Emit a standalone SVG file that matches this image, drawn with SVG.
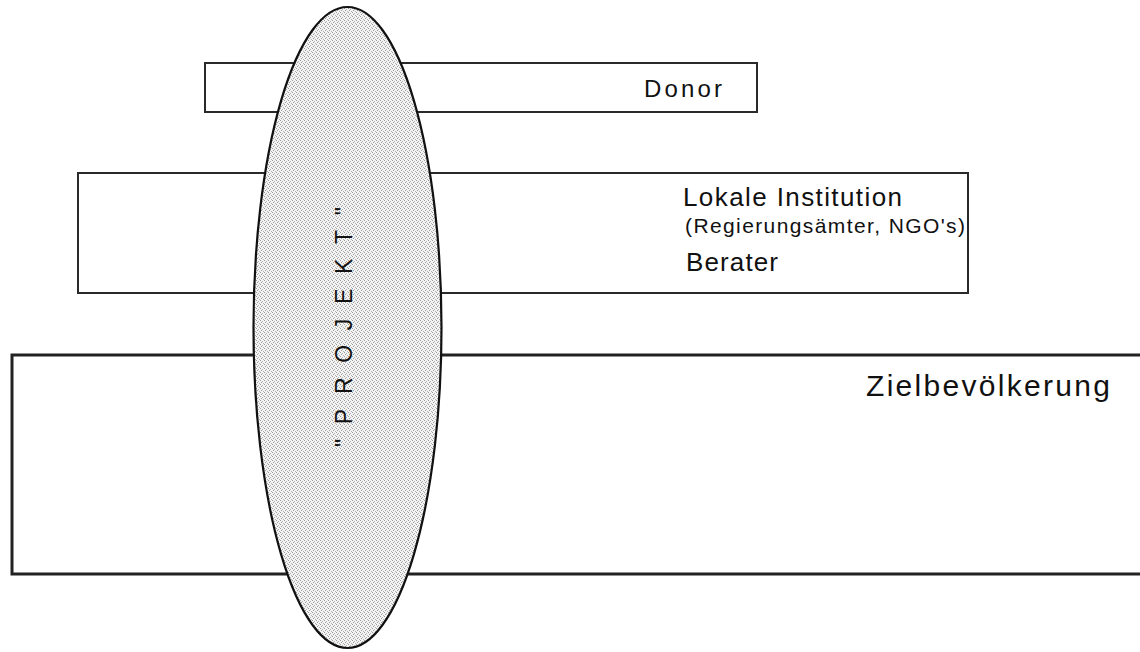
<svg xmlns="http://www.w3.org/2000/svg" width="1140" height="652" viewBox="0 0 1140 652">
  <defs>
    <pattern id="stipple" x="0" y="0" width="4" height="4" patternUnits="userSpaceOnUse">
      <rect x="0" y="0" width="4" height="4" fill="#f4f4f4"/>
      <rect x="0" y="0" width="1" height="1" fill="#9a9a9a"/>
      <rect x="2" y="1" width="1" height="1" fill="#b0b0b0"/>
      <rect x="1" y="2" width="1" height="1" fill="#9a9a9a"/>
      <rect x="3" y="3" width="1" height="1" fill="#b0b0b0"/>
    </pattern>
  </defs>
  <style>
    .box { fill: #ffffff; stroke: #2a2a2a; stroke-width: 2; }
    .boxthick { fill: #ffffff; stroke: #222222; stroke-width: 3; }
    .lbl { font-family: "Liberation Sans", Arial, Helvetica, sans-serif; fill: #111111; }
  </style>
  <rect width="1140" height="652" fill="#ffffff"/>

  <g id="zielbevoelkerung">
    <path class="boxthick" d="M1142,355 L12,355 L12,574 L1142,574"/>
    <text class="lbl" x="866" y="396" font-size="30" textLength="244" lengthAdjust="spacing">Zielbevölkerung</text>
  </g>

  <g id="lokale-institution">
    <rect class="box" x="78" y="173" width="890" height="120"/>
    <text class="lbl" x="683" y="206" font-size="26" textLength="219" lengthAdjust="spacing">Lokale Institution</text>
    <text class="lbl" x="685" y="233" font-size="21" textLength="280" lengthAdjust="spacing">(Regierungsämter, NGO's)</text>
    <text class="lbl" x="686" y="271" font-size="26" textLength="92" lengthAdjust="spacing">Berater</text>
  </g>

  <g id="donor">
    <rect class="box" x="205" y="63" width="552" height="49"/>
    <text class="lbl" x="644" y="97" font-size="24" textLength="78" lengthAdjust="spacing">Donor</text>
  </g>

  <g id="projekt">
    <ellipse cx="347.5" cy="327.5" rx="94" ry="320.5" fill="url(#stipple)" stroke="#111111" stroke-width="2.2"/>
    <text class="lbl" transform="translate(352,447) rotate(-90)" x="0" y="0" font-size="23" textLength="240" lengthAdjust="spacing">"PROJEKT"</text>
  </g>

  <g id="connectors"/>
</svg>
